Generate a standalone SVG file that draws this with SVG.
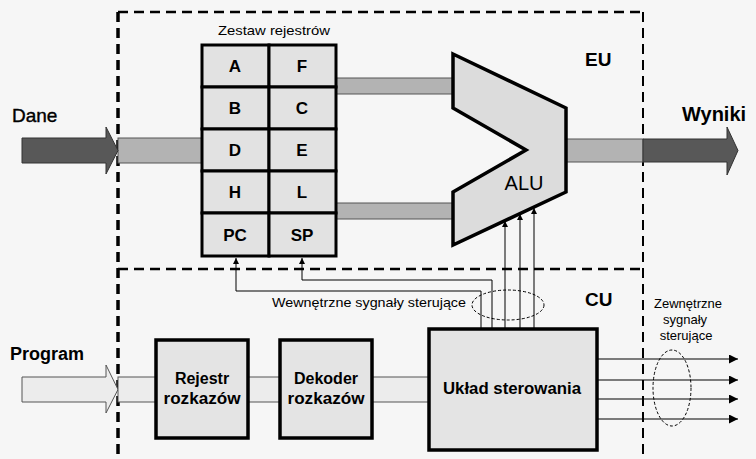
<svg xmlns="http://www.w3.org/2000/svg" width="756" height="459" viewBox="0 0 756 459">
<style>
.bg{fill:#f6f6f6}
.dash{fill:none;stroke:#000;stroke-dasharray:10 6}
.cell{fill:#e2e2e2;stroke:#000;stroke-width:3}
.box{fill:#e4e4e4;stroke:#000;stroke-width:3.5}
.bus{fill:#b3b3b3;stroke:#555;stroke-width:1}
.lbus{fill:#ececec;stroke:#555;stroke-width:1}
.dark{fill:#585858;stroke:#333;stroke-width:1}
.wire{fill:none;stroke:#000;stroke-width:1}
.ell{fill:none;stroke:#000;stroke-width:1;stroke-dasharray:3 2}
.t{font-family:"Liberation Sans",Arial,sans-serif;fill:#000}
.b{font-weight:bold}
.reg{font-family:"Liberation Sans",Arial,sans-serif;font-weight:bold;font-size:17px;text-anchor:middle}
.small{font-family:"Liberation Sans",Arial,sans-serif;font-size:13px;fill:#000}
</style>
<defs>
<marker id="ah" viewBox="0 0 10 10" refX="10" refY="5" markerWidth="6" markerHeight="6" orient="auto" markerUnits="userSpaceOnUse">
<path d="M0,0 L10,5 L0,10 Z" fill="#000"/>
</marker>
<marker id="ahb" viewBox="0 0 10 10" refX="10" refY="5" markerWidth="11" markerHeight="9" orient="auto" markerUnits="userSpaceOnUse">
<path d="M0,0 L10,5 L0,10 Z" fill="#000"/>
</marker>
</defs>
<rect class="bg" x="0" y="0" width="756" height="459"/>

<g id="borders">
<path class="dash" stroke-width="2.5" d="M118,12 H643"/>
<path class="dash" stroke-width="2.5" d="M118,269 H643"/>
<path class="dash" stroke-width="3.5" d="M118,12 V459"/>
<path class="dash" stroke-width="2" d="M643,12 V459"/>
</g>

<g id="connectors">
<!-- Dane input -->
<rect class="bus" x="118" y="138" width="84" height="25"/>
<path class="dark" d="M22,138 H106 V127 L118,150.5 L106,174 V163 H22 Z"/>
<!-- buses to ALU -->
<rect class="bus" x="336" y="78" width="117" height="16"/>
<rect class="bus" x="336" y="203" width="117" height="16"/>
<!-- ALU output -->
<rect class="bus" x="566" y="139" width="77" height="23"/>
<path class="dark" d="M643,139 H727 V127 L738,150.5 L727,175 V162 H643 Z"/>
<!-- Program input -->
<path class="lbus" d="M22,377 H106 V365 L118,389.5 L106,413 V402 H22 Z"/>
<rect class="lbus" x="118" y="377" width="38" height="25"/>
<rect class="lbus" x="248" y="377" width="32" height="25"/>
<rect class="lbus" x="372" y="377" width="57" height="25"/>
<!-- internal control -->
<path class="wire" d="M481,329 V291 H236 V258" marker-end="url(#ah)"/>
<path class="wire" d="M492,329 V280 H302 V258" marker-end="url(#ah)"/>
<path class="wire" d="M505,329 V221" marker-end="url(#ah)"/>
<path class="wire" d="M520,329 V214" marker-end="url(#ah)"/>
<path class="wire" d="M534,329 V208" marker-end="url(#ah)"/>
<ellipse class="ell" cx="508" cy="305" rx="36" ry="15"/>
<!-- external control -->
<path class="wire" d="M597,359 H738" marker-end="url(#ahb)"/>
<path class="wire" d="M597,380 H738" marker-end="url(#ahb)"/>
<path class="wire" d="M597,399 H738" marker-end="url(#ahb)"/>
<path class="wire" d="M597,419 H738" marker-end="url(#ahb)"/>
<ellipse class="ell" cx="672" cy="388" rx="19" ry="38"/>
</g>

<g id="registers">
<rect class="cell" x="202" y="45" width="67" height="42"/>
<rect class="cell" x="269" y="45" width="67" height="42"/>
<rect class="cell" x="202" y="87" width="67" height="42"/>
<rect class="cell" x="269" y="87" width="67" height="42"/>
<rect class="cell" x="202" y="129" width="67" height="42"/>
<rect class="cell" x="269" y="129" width="67" height="42"/>
<rect class="cell" x="202" y="171" width="67" height="42"/>
<rect class="cell" x="269" y="171" width="67" height="42"/>
<rect class="cell" x="202" y="213" width="67" height="43"/>
<rect class="cell" x="269" y="213" width="67" height="43"/>
<text class="reg" x="235" y="72">A</text>
<text class="reg" x="302" y="72">F</text>
<text class="reg" x="235" y="114">B</text>
<text class="reg" x="302" y="114">C</text>
<text class="reg" x="235" y="156">D</text>
<text class="reg" x="302" y="156">E</text>
<text class="reg" x="235" y="198">H</text>
<text class="reg" x="302" y="198">L</text>
<text class="reg" x="235" y="241">PC</text>
<text class="reg" x="302" y="241">SP</text>
<text class="small" x="218" y="35" textLength="112" lengthAdjust="spacingAndGlyphs">Zestaw rejestrów</text>
</g>

<g id="alu">
<path d="M453,54 L566,108 V192 L453,245 V192 L526,150 L453,108 Z" fill="#dcdcdc" stroke="#000" stroke-width="3.5" stroke-linejoin="miter"/>
<text class="t" x="524" y="190" font-size="20" text-anchor="middle">ALU</text>
</g>

<g id="rejestr">
<rect class="box" x="156" y="340" width="92" height="98"/>
<text class="t b" x="202" y="384" font-size="16" text-anchor="middle">Rejestr</text>
<text class="t b" x="202" y="404" font-size="16" text-anchor="middle" textLength="77" lengthAdjust="spacingAndGlyphs">rozkazów</text>
</g>

<g id="dekoder">
<rect class="box" x="280" y="340" width="92" height="98"/>
<text class="t b" x="326" y="384" font-size="16" text-anchor="middle">Dekoder</text>
<text class="t b" x="326" y="404" font-size="16" text-anchor="middle" textLength="77" lengthAdjust="spacingAndGlyphs">rozkazów</text>
</g>

<g id="uklad">
<rect class="box" x="429" y="329" width="168" height="121"/>
<text class="t b" x="512" y="394" font-size="16" text-anchor="middle" textLength="138" lengthAdjust="spacingAndGlyphs">Układ sterowania</text>
</g>

<g id="labels">
<text class="t" x="12" y="122" font-size="19" stroke="#000" stroke-width="0.4">Dane</text>
<text class="t b" x="10" y="360" font-size="18">Program</text>
<text class="t b" x="682" y="121" font-size="20">Wyniki</text>
<text class="t b" x="585" y="66" font-size="19">EU</text>
<text class="t b" x="585" y="306" font-size="19">CU</text>
<text class="small" x="272" y="307" textLength="194" lengthAdjust="spacingAndGlyphs">Wewnętrzne sygnały sterujące</text>
<text class="small" x="688" y="308" text-anchor="middle">Zewnętrzne</text>
<text class="small" x="685" y="324" text-anchor="middle">sygnały</text>
<text class="small" x="686" y="340" text-anchor="middle">sterujące</text>
</g>
</svg>
